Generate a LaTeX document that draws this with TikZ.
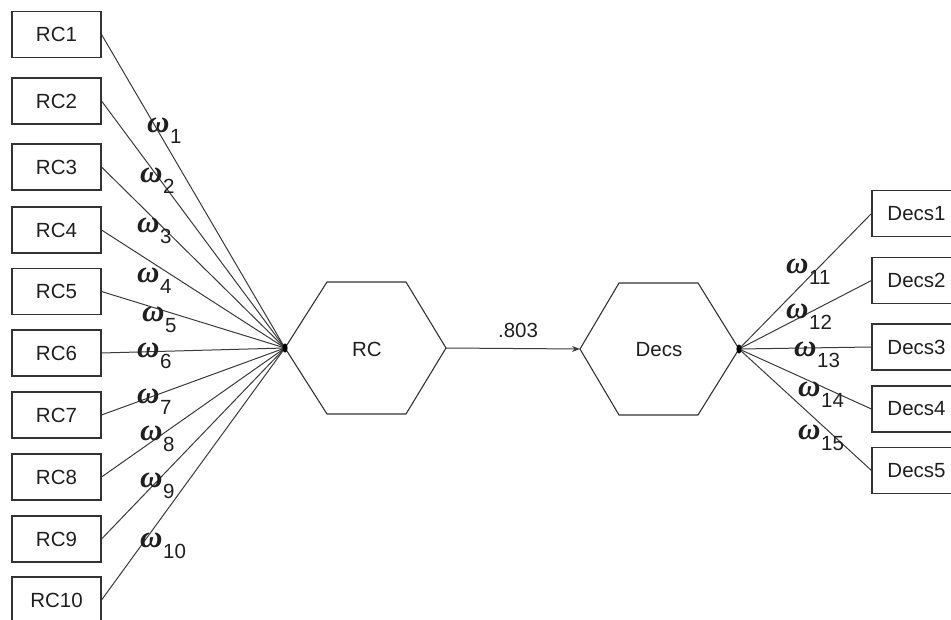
\documentclass[tikz,border=0pt]{standalone}
\usepackage{fontspec}
\setmainfont{Liberation Sans}
\newfontfamily\omegafont{Liberation Serif}
\usetikzlibrary{arrows.meta}

\definecolor{boxgray}{HTML}{333333}
\definecolor{linegray}{HTML}{3a3a3a}

% weight label: bold italic omega with a lowered index
\newcommand\wlabel[1]{{\omegafont\bfseries\itshape\fontsize{31}{31}\selectfont ω}\kern0.5pt\raisebox{-11pt}{#1}}

\begin{document}
\begin{tikzpicture}[x=1pt,y=-1pt,
  txt/.style={font=\fontsize{20.5}{24}\selectfont, text=black!88},
  box/.style={txt, draw=boxgray, line width=1.1pt, minimum width=89pt,
              minimum height=46pt, inner sep=0pt},
  link/.style={draw=linegray, line width=1pt},
  hex/.style={draw=boxgray, line width=1.1pt, line join=miter},
  wlab/.style={txt, anchor=base west, inner sep=0pt},
  hubdot/.style={fill=black}
]
\useasboundingbox (0,0) rectangle (951,620);
\clip (0,0) rectangle (951,620);

% hexagon RC
\coordinate (rcW)  at (285,348);
\coordinate (rcNW) at (327,282);
\coordinate (rcNE) at (406,282);
\coordinate (rcE)  at (446,348);
\coordinate (rcSE) at (406,414);
\coordinate (rcSW) at (327,414);
\draw[hex] (rcW) -- (rcNW) -- (rcNE) -- (rcE) -- (rcSE) -- (rcSW) -- cycle;
\node[txt] (rc) at (367,349) {RC};

% hexagon Decs
\coordinate (dcW)  at (580,349);
\coordinate (dcNW) at (619,283);
\coordinate (dcNE) at (698,283);
\coordinate (dcE)  at (739,349);
\coordinate (dcSE) at (698,415);
\coordinate (dcSW) at (619,415);
\draw[hex] (dcW) -- (dcNW) -- (dcNE) -- (dcE) -- (dcSE) -- (dcSW) -- cycle;
\node[txt] (dc) at (659,349.5) {Decs};

% indicator boxes
\foreach \i/\y in {1/34.5,2/101,3/167,4/230,5/291.5,6/353,7/415,8/477,9/539,10/600}
  \node[box] (rc\i) at (56.5,\y) {RC\i};
\foreach \i/\y in {1/213.5,2/280.5,3/347,4/409,5/470.5}
  \node[box] (dc\i) at (916.5,\y) {Decs\i};

% connectors
\foreach \i in {1,...,10}
  \draw[link] (rc\i.east) -- (rcW);
\foreach \i in {1,...,5}
  \draw[link] (dcE) -- (dc\i.west);
\draw[link, -{Stealth[length=8pt,width=6pt]}] (rcE) -- (dcW);
\node[txt] (path) at (518,330) {.803};

% hub dots
\fill[hubdot] (rcW) ellipse [x radius=2.6, y radius=4.6];
\fill[hubdot] (dcE) ellipse [x radius=2.6, y radius=4.6];

% weights
\foreach \i/\x/\y in {1/147/133,2/140/183,3/137/233,4/137/283,5/142/322,
                      6/137/358,7/137/403,8/140/440,9/140/487,10/140/547,
                      11/786/274,12/786/319,13/794/357,14/798/396,15/798/439}
  \node[wlab] (w\i) at (\x,\y) {\wlabel{\i}};
\end{tikzpicture}
\end{document}
